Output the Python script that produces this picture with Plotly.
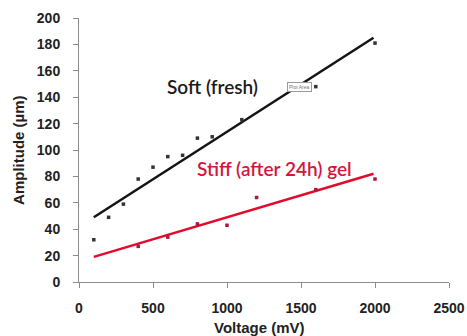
import plotly.graph_objects as go

# Data
soft_x = [100, 200, 300, 400, 500, 600, 700, 800, 900, 1100, 1600, 2000]
soft_y = [32, 49, 59, 78, 87, 95, 96, 109, 110, 123, 148, 181]
stiff_x = [400, 600, 800, 1000, 1200, 1600, 2000]
stiff_y = [27, 34, 44, 43, 64, 70, 78]

fit_x = [100, 1990]
soft_fit = [49, 185]
stiff_fit = [19, 82]

x_ticks = [0, 500, 1000, 1500, 2000, 2500]
y_ticks = [0, 20, 40, 60, 80, 100, 120, 140, 160, 180, 200]

BLACK = "#141414"
RED = "#e30a2c"
TEXT_RED = "#d4163c"
AXIS_GRAY = "#8c8c8c"

fig = go.Figure()
fig.add_trace(go.Scatter(x=fit_x, y=soft_fit, mode="lines",
                         line=dict(color=BLACK, width=2.5), hoverinfo="skip"))
fig.add_trace(go.Scatter(x=fit_x, y=stiff_fit, mode="lines",
                         line=dict(color=RED, width=2.5), hoverinfo="skip"))
fig.add_trace(go.Scatter(x=soft_x, y=soft_y, mode="markers",
                         marker=dict(color="#333333", size=3.5, symbol="square")))
fig.add_trace(go.Scatter(x=stiff_x, y=stiff_y, mode="markers",
                         marker=dict(color="#b0163a", size=3.5, symbol="square")))

fig.add_annotation(x=900, y=148, text="Soft (fresh)", showarrow=False,
                   font=dict(family="Lato", size=19, color="#1a1a1a", weight=600),
                   xanchor="center", yanchor="middle")
fig.add_annotation(x=1490, y=148, text="Plot Area", showarrow=False,
                   font=dict(family="Liberation Sans", size=5, color="#777777"),
                   bordercolor="#999999", borderwidth=1, borderpad=1,
                   bgcolor="white", xanchor="center", yanchor="middle")
fig.add_annotation(x=1320, y=86, text="Stiff (after 24h) gel", showarrow=False,
                   font=dict(family="Lato", size=19, color=TEXT_RED, weight=600),
                   xanchor="center", yanchor="middle")

# axis titles placed as paper annotations for exact positioning
fig.add_annotation(xref="paper", yref="paper", x=0.487, y=-0.174,
                   text="Voltage (mV)", showarrow=False,
                   font=dict(family="Liberation Sans", size=15, color="#222222", weight=700),
                   xanchor="center", yanchor="middle")
fig.add_annotation(xref="paper", yref="paper", x=-0.165, y=0.5,
                   text="Amplitude (µm)", showarrow=False, textangle=-90,
                   font=dict(family="Liberation Sans", size=15, color="#222222", weight=700),
                   xanchor="center", yanchor="middle")

axis_common = dict(
    showgrid=False, zeroline=False, showline=True, linecolor=AXIS_GRAY,
    linewidth=1, ticks="outside", ticklen=5, tickcolor=AXIS_GRAY, automargin=False,
    tickfont=dict(family="Liberation Sans", size=14, color="#222222", weight=700),
)

fig.update_layout(
    width=467, height=336,
    margin=dict(l=79, r=18, t=18, b=54),
    paper_bgcolor="white", plot_bgcolor="white",
    showlegend=False,
    xaxis=dict(range=[0, 2500], tickvals=x_ticks, ticklabelstandoff=8, **axis_common),
    yaxis=dict(range=[0, 200], tickvals=y_ticks, ticklabelstandoff=10, **axis_common),
)

fig.write_html("out.html")
